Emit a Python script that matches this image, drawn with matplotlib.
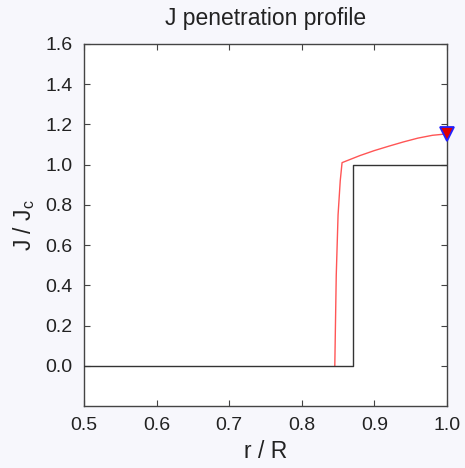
import numpy as np
import matplotlib
matplotlib.use("Agg")
import matplotlib.pyplot as plt

plt.rcParams["font.family"] = ["Liberation Sans", "DejaVu Sans"]

# applied field profile (black step)
r_step = [0.5, 0.87, 0.87, 1.0]
j_step = [0.0, 0.0, 1.0, 1.0]

# penetration profile (red)
r_prof = [0.8455, 0.8475, 0.8500, 0.8530, 0.8555, 0.880, 0.900,
          0.920, 0.940, 0.960, 0.980, 1.000]
j_prof = [0.0, 0.45, 0.75, 0.92, 1.01, 1.045, 1.070,
          1.092, 1.113, 1.132, 1.146, 1.153]

bg = "#f7f7fc"
fig = plt.figure(figsize=(4.65, 4.68), dpi=100, facecolor=bg)
ax = fig.add_axes([0.1806, 0.1325, 0.7806, 0.7735])
ax.set_facecolor("white")

ax.plot(r_prof, j_prof, color="#ff5555", lw=1.0, zorder=2)
ax.plot(r_step, j_step, color="#333333", lw=1.0, zorder=3)
ax.plot([r_prof[-1]], [j_prof[-1]], marker="v", ms=10, mfc="#e00000",
        mec="#2222ff", mew=1.3, clip_on=False, zorder=4)

ax.set_xlim(0.5, 1.0)
ax.set_ylim(-0.2, 1.6)
ax.set_xticks(np.arange(0.5, 1.01, 0.1))
ax.set_xticklabels(["0.5", "0.6", "0.7", "0.8", "0.9", "1.0"])
ax.set_yticks(np.arange(0.0, 1.61, 0.2))
ax.set_yticklabels([f"{v:.1f}" for v in np.arange(0.0, 1.61, 0.2)])
ax.tick_params(direction="in", top=True, right=True, length=4,
               color="#444444", labelsize=14, labelcolor="#222222", pad=8)
for sp in ax.spines.values():
    sp.set_edgecolor("#444444")
    sp.set_linewidth(1.0)

ax.set_title("J penetration profile", fontsize=16.5, color="#222222", pad=14)
ax.set_xlabel("r / R", fontsize=16.5, color="#222222", labelpad=4)
ax.set_ylabel("J / J$_\\mathregular{c}$", fontsize=16.5, color="#222222", labelpad=6)

fig.savefig("out.png", dpi=100, facecolor=bg)
